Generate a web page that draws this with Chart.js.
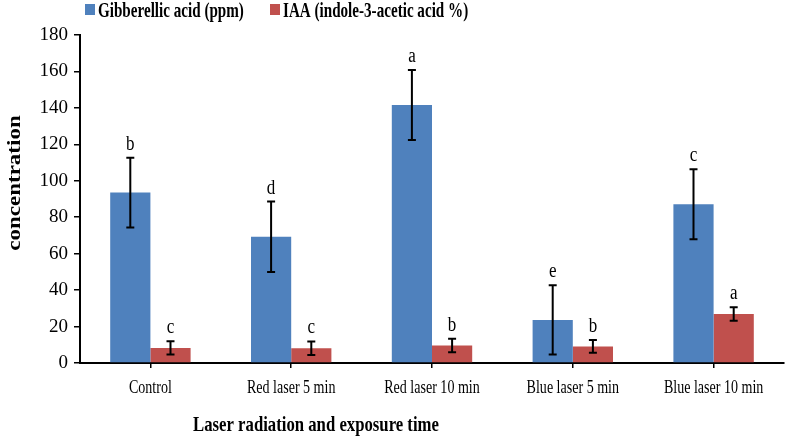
<!DOCTYPE html>
<html>
<head>
<meta charset="utf-8">
<script src="https://cdn.jsdelivr.net/npm/chart.js@4"></script>
<style>
  html, body { margin: 0; padding: 0; background: #fff; }
  #wrap { width: 786px; height: 436px; }
</style>
</head>
<body>
<div id="wrap"><canvas id="myChart" width="786" height="436"></canvas></div>
<script>
var categories = ['Control', 'Red laser 5 min', 'Red laser 10 min', 'Blue laser 5 min', 'Blue laser 10 min'];
var gaValues = [93.5, 69.3, 141.6, 23.6, 87.1];
var gaErrors = [19.2, 19.3, 19.2, 19.0, 19.2];
var gaLetters = ['b', 'd', 'a', 'e', 'c'];
var iaaValues = [8.3, 8.1, 9.6, 9.1, 26.9];
var iaaErrors = [3.7, 3.7, 3.7, 3.5, 3.7];
var iaaLetters = ['c', 'c', 'b', 'b', 'a'];
var seriesNames = ['Gibberellic acid (ppm)', 'IAA (indole-3-acetic acid %)'];
var seriesColors = ['#4F81BD', '#C0504D'];
var yMin = 0, yMax = 180, yStep = 20;

var serif = '"Liberation Serif", "Times New Roman", serif';

// the source picture is squeezed sideways, so text is drawn narrower than its height
var squeeze = 0.78;

function narrowText(ctx, text, x, y, font, align, sx) {
    ctx.save();
    ctx.font = font;
    ctx.textAlign = align || 'center';
    ctx.translate(x, y);
    ctx.scale(sx || squeeze, 1);
    ctx.fillText(text, 0, 0);
    ctx.restore();
}

// error bars + letters + legend + axis titles + category labels
var extrasPlugin = {
    id: 'extras',
    afterDatasetsDraw: function (chart) {
        var ctx = chart.ctx;
        var y = chart.scales.y;
        var errs = [gaErrors, iaaErrors];
        var letters = [gaLetters, iaaLetters];
        ctx.save();
        ctx.strokeStyle = '#000';
        ctx.fillStyle = '#000';
        ctx.lineWidth = 2;
        ctx.textBaseline = 'alphabetic';
        chart.data.datasets.forEach(function (ds, di) {
            chart.getDatasetMeta(di).data.forEach(function (bar, i) {
                var v = ds.data[i];
                var top = y.getPixelForValue(v + errs[di][i]);
                var bot = y.getPixelForValue(v - errs[di][i]);
                var x = bar.x;
                ctx.beginPath();
                ctx.moveTo(x, top); ctx.lineTo(x, bot);
                ctx.moveTo(x - 4, top); ctx.lineTo(x + 4, top);
                ctx.moveTo(x - 4, bot); ctx.lineTo(x + 4, bot);
                ctx.stroke();
                narrowText(ctx, letters[di][i], x, top - 8, '20px ' + serif, 'center', 0.85);
            });
        });
        ctx.restore();
    },
    afterDraw: function (chart) {
        var ctx = chart.ctx;
        var xs = chart.scales.x;
        ctx.save();
        ctx.fillStyle = '#000';
        ctx.textBaseline = 'middle';
        // category labels
        categories.forEach(function (c, i) {
            narrowText(ctx, c, xs.getPixelForTick(i), 388, '18px ' + serif, 'center');
        });
        // legend
        var lx = [85, 270];
        for (var i = 0; i < 2; i++) {
            ctx.fillStyle = seriesColors[i];
            ctx.fillRect(lx[i], 4, 10, 11);
            ctx.fillStyle = '#000';
            narrowText(ctx, seriesNames[i], lx[i] + 13, 12, 'bold 21px ' + serif, 'left', 0.72);
        }
        // x title
        narrowText(ctx, 'Laser radiation and exposure time', 316, 425, 'bold 22px ' + serif, 'center', 0.76);
        // y title
        ctx.translate(15, 183);
        ctx.rotate(-Math.PI / 2);
        ctx.font = 'bold 23px ' + serif;
        ctx.textAlign = 'center';
        ctx.scale(1, squeeze);
        ctx.fillText('concentration', 0, 0);
        ctx.restore();
    }
};

const data = {
    labels: categories,
    datasets: [{
        label: seriesNames[0],
        data: gaValues,
        backgroundColor: seriesColors[0],
        categoryPercentage: 0.571,
        barPercentage: 1.0
    }, {
        label: seriesNames[1],
        data: iaaValues,
        backgroundColor: seriesColors[1],
        categoryPercentage: 0.571,
        barPercentage: 1.0
    }]
};

const config = {
    type: 'bar',
    data: data,
    plugins: [extrasPlugin],
    options: {
        responsive: false,
        animation: false,
        layout: {
            padding: { left: 0, right: 2, top: 35, bottom: 0 }
        },
        plugins: {
            legend: { display: false },
            tooltip: { enabled: false }
        },
        scales: {
            x: {
                grid: {
                    display: true,
                    offset: false,
                    drawOnChartArea: false,
                    drawTicks: true,
                    tickLength: 5,
                    color: '#000',
                    lineWidth: 1.5
                },
                border: { display: true, color: '#000', width: 2 },
                ticks: { display: false },
                afterFit: function (scale) { scale.height = 73; }
            },
            y: {
                min: yMin,
                max: yMax,
                grid: {
                    display: true,
                    drawOnChartArea: false,
                    drawTicks: true,
                    tickLength: 6,
                    color: '#000',
                    lineWidth: 1.5
                },
                border: { display: true, color: '#000', width: 2 },
                ticks: {
                    stepSize: yStep,
                    color: '#000',
                    font: { family: serif, size: 19 },
                    padding: 6
                },
                afterFit: function (scale) { scale.width = 80; }
            }
        }
    }
};
var ctx = document.getElementById('myChart').getContext('2d');
var myNewChart = new Chart(ctx, config);
</script>
</body>
</html>
